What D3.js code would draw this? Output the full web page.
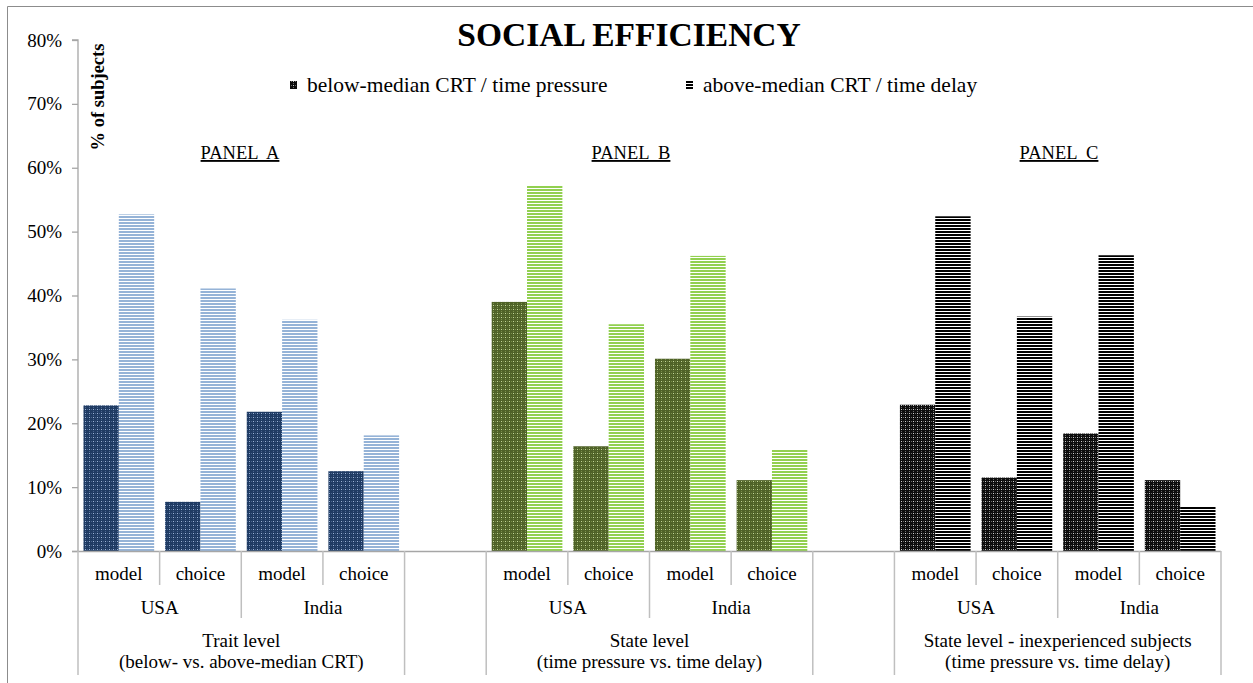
<!DOCTYPE html>
<html>
<head>
<meta charset="utf-8">
<script src="https://cdn.jsdelivr.net/npm/d3@7"></script>
<style>
  html, body { margin: 0; padding: 0; background: #fff; }
  svg { display: block; }
  svg text { font-family: "Liberation Serif", "Times New Roman", serif; }
</style>
</head>
<body>
<svg id="chart" width="1253" height="683"></svg>
<script>
// ---- data ----
const title = "SOCIAL EFFICIENCY";
const seriesNames = ["below-median CRT / time pressure", "above-median CRT / time delay"];
const panelNames = ["PANEL A", "PANEL B", "PANEL C"];
const groupLines = [
  ["Trait level", "(below- vs. above-median CRT)"],
  ["State level", "(time pressure vs. time delay)"],
  ["State level - inexperienced subjects", "(time pressure vs. time delay)"]
];
const countries = ["USA", "India"];
const measures = ["model", "choice"];
// values in % : order per panel USA-model, USA-choice, India-model, India-choice
const belowValues = [22.8, 7.7, 21.8, 12.5, 39.0, 16.4, 30.1, 11.1, 22.9, 11.5, 18.4, 11.1];
const aboveValues = [52.7, 41.1, 36.2, 18.1, 57.2, 35.5, 46.2, 15.9, 52.4, 36.7, 46.3, 6.9];
const yTickValues = [0, 10, 20, 30, 40, 50, 60, 70, 80];
const yAxisTitle = "% of subjects";

// ---- layout ----
const FONT = "Liberation Serif, Times New Roman, serif";
const svg = d3.select("#chart");
const x0 = 78, x1 = 1221, yBase = 551, yTop = 40;
const slotsPerPanel = 5; // 4 categories + 1 blank spacer
const nSlots = panelNames.length * slotsPerPanel - 1;

const xSlot = d3.scaleBand().domain(d3.range(nSlots)).range([x0, x1]).padding(0);
const xSeries = d3.scaleBand().domain([0, 1]).range([0, xSlot.bandwidth()]).paddingInner(0).paddingOuter(0.155);
const y = d3.scaleLinear().domain([0, 80]).range([yBase, yTop]);

const panelColors = [
  { dark: "#1f3b63", dot: "#9db4d6", dot2: "#4a6590", stripe: "#95b3d7" },
  { dark: "#4f6228", dot: "#c3d69b", dot2: "#7a8f4a", stripe: "#92d050" },
  { dark: "#0d0d0d", dot: "#d0d0d0", dot2: "#6a6a6a", stripe: "#000000" }
];

const defs = svg.append("defs");
panelColors.forEach((c, i) => {
  const pd = defs.append("pattern").attr("id", "dots" + i)
    .attr("patternUnits", "userSpaceOnUse").attr("width", 4).attr("height", 4);
  pd.append("rect").attr("width", 4).attr("height", 4).attr("fill", c.dark);
  pd.append("rect").attr("x", 1).attr("y", 1).attr("width", 1).attr("height", 1).attr("fill", c.dot);
  pd.append("rect").attr("x", 1).attr("y", 3).attr("width", 1).attr("height", 1).attr("fill", c.dot2);
  pd.append("rect").attr("x", 3).attr("y", 1).attr("width", 1).attr("height", 1).attr("fill", c.dot2);

  const ps = defs.append("pattern").attr("id", "stripes" + i)
    .attr("patternUnits", "userSpaceOnUse").attr("width", 4).attr("height", 3);
  ps.append("rect").attr("width", 4).attr("height", 3).attr("fill", "#ffffff");
  ps.append("rect").attr("y", 0).attr("width", 4).attr("height", 2).attr("fill", c.stripe);
});

const txt = (sel) => sel.attr("font-family", FONT).attr("fill", "#000");

// outer border (top + left)
svg.append("path").attr("d", "M7.5,683 L7.5,6.5 L1253,6.5")
  .attr("fill", "none").attr("stroke", "#8c8c8c").attr("stroke-width", 1);

// title
svg.append("text").attr("x", 629).attr("y", 46).attr("text-anchor", "middle")
  .attr("font-size", 33.5).attr("font-weight", "bold").call(txt).text(title);

// legend
const legendX = [290, 686];
seriesNames.forEach((name, i) => {
  svg.append("rect").attr("x", legendX[i]).attr("y", 81).attr("width", 7).attr("height", 8)
    .attr("fill", i === 0 ? "url(#dots2)" : "url(#stripes2)");
  svg.append("text").attr("x", legendX[i] + 17).attr("y", 92).attr("font-size", 21.5)
    .call(txt).text(name);
});

// y-axis title
svg.append("text").attr("transform", "translate(104,97) rotate(-90)")
  .attr("text-anchor", "middle").attr("font-size", 18.5).attr("font-weight", "bold")
  .call(txt).text(yAxisTitle);

// y axis
const yAxis = svg.append("g").attr("transform", `translate(${x0},0)`)
  .call(d3.axisLeft(y).tickValues(yTickValues).tickSize(6).tickPadding(10)
    .tickFormat(d => d + "%"));
yAxis.attr("font-family", FONT);
yAxis.selectAll("path, line").attr("stroke", "#a6a6a6").attr("stroke-width", 1.3);
yAxis.select(".domain").attr("d", `M-6,${yTop}H0V${yBase}`);
yAxis.selectAll("text").attr("font-size", 19).call(txt);

// bars
const slotOf = (k) => Math.floor(k / 4) * slotsPerPanel + (k % 4);
const barsData = [];
belowValues.forEach((v, k) => barsData.push({ k, s: 0, v }));
aboveValues.forEach((v, k) => barsData.push({ k, s: 1, v }));

svg.append("g").selectAll("rect").data(barsData).join("rect")
  .attr("x", d => xSlot(slotOf(d.k)) + xSeries(d.s))
  .attr("width", xSeries.bandwidth())
  .attr("y", d => y(d.v))
  .attr("height", d => yBase - y(d.v))
  .attr("fill", d => (d.s === 0 ? "url(#dots" : "url(#stripes") + Math.floor(d.k / 4) + ")");

// x axis baseline
svg.append("line").attr("x1", 72).attr("x2", x1).attr("y1", yBase + 0.5).attr("y2", yBase + 0.5)
  .attr("stroke", "#a6a6a6").attr("stroke-width", 1.3);

// category labels & dividers
const gx = svg.append("g");
const divColor = "#bfbfbf";
const vline = (x, yEnd) => gx.append("line").attr("x1", x).attr("x2", x)
  .attr("y1", yBase).attr("y2", yEnd).attr("stroke", divColor).attr("stroke-width", 1.5);

panelNames.forEach((p, pi) => {
  const first = pi * slotsPerPanel;
  const left = xSlot(first);
  const right = xSlot(first + 3) + xSlot.bandwidth();
  for (let c = 0; c < 2; c++) {
    for (let m = 0; m < 2; m++) {
      const s = first + c * 2 + m;
      gx.append("text").attr("x", xSlot(s) + xSlot.bandwidth() / 2).attr("y", 580)
        .attr("text-anchor", "middle").attr("font-size", 19).call(txt).text(measures[m]);
    }
    const cl = xSlot(first + c * 2);
    gx.append("text").attr("x", cl + xSlot.bandwidth()).attr("y", 614)
      .attr("text-anchor", "middle").attr("font-size", 19).call(txt).text(countries[c]);
  }
  vline(left, 675);
  vline(xSlot(first + 1), 585);
  vline(xSlot(first + 2), 618);
  vline(xSlot(first + 3), 585);
  vline(right, 675);
  const cx = (left + right) / 2;
  gx.append("text").attr("x", cx).attr("y", 647).attr("text-anchor", "middle")
    .attr("font-size", 19).call(txt).text(groupLines[pi][0]);
  gx.append("text").attr("x", cx).attr("y", 668).attr("text-anchor", "middle")
    .attr("font-size", 19).call(txt).text(groupLines[pi][1]);
});

// panel labels (underlined)
const panelCenters = [240, 631, 1059];
panelNames.forEach((p, pi) => {
  svg.append("text").attr("x", panelCenters[pi]).attr("y", 159).attr("text-anchor", "middle")
    .attr("font-size", 18.5).call(txt).attr("text-decoration", "underline")
    .style("white-space", "pre").text(p.replace(" ", "  "));
});
</script>
</body>
</html>
